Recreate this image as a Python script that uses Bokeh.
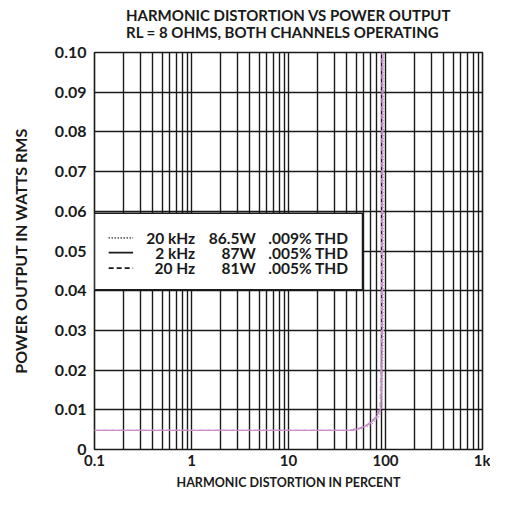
from bokeh.plotting import figure
from bokeh.models import Range1d, FixedTicker, Title
from bokeh.core.properties import value
from bokeh.embed import file_html
from bokeh.resources import INLINE

# ---- data ----
title_lines = ["HARMONIC DISTORTION VS POWER OUTPUT", "RL = 8 OHMS, BOTH CHANNELS OPERATING"]
x_tick_values = [0.1, 1, 10, 100, 1000]
x_tick_labels = ["0.1", "1", "10", "100", "1k"]
x_grid_mantissas = [1, 2, 3, 4, 5, 6, 7, 8, 9]
x_grid_decades = [0.1, 1, 10, 100]
y_tick_values = [0, 0.01, 0.02, 0.03, 0.04, 0.05, 0.06, 0.07, 0.08, 0.09, 0.10]
y_tick_labels = ["0", "0.01", "0.02", "0.03", "0.04", "0.05", "0.06", "0.07", "0.08", "0.09", "0.10"]

thd_20k = [0.1, 48, 60, 72, 84, 92, 95, 96]
pw_20k = [0.0048, 0.0048, 0.0054, 0.0064, 0.008, 0.0105, 0.03, 0.10]
thd_2k = [0.1, 45, 56, 68, 80, 90, 93, 94]
pw_2k = [0.0048, 0.0048, 0.0054, 0.0064, 0.008, 0.0105, 0.03, 0.10]
thd_20hz = [0.1, 42, 54, 66, 78, 88, 91, 92]
pw_20hz = [0.0048, 0.0048, 0.0054, 0.0064, 0.008, 0.0105, 0.03, 0.10]

legend_freq = ["20 kHz", "2 kHz", "20 Hz"]
legend_power = ["86.5W", "87W", "81W"]
legend_thd = [".009% THD", ".005% THD", ".005% THD"]
legend_dash = ["1 2", "solid", "5 3"]

FONT = "Lato"
INK = "#1a1a1a"
CURVE = "#c98fc9"

p = figure(width=490, height=492, x_axis_type="log",
           x_range=Range1d(0.1, 1000), y_range=Range1d(0, 0.10),
           output_backend="svg", toolbar_location=None,
           min_border_left=94, min_border_right=8, min_border_bottom=30, min_border_top=52)
p.background_fill_color = "white"
p.border_fill_color = "white"
p.outline_line_color = INK
p.outline_line_width = 1.6

p.title.text = "\n".join(title_lines)
p.title.align = "center"
p.title.text_font = FONT
p.title.text_font_size = "15px"
p.title.text_font_style = "bold"
p.title.text_color = INK
p.title.text_line_height = 0.95
p.title.standoff = 0
# small empty spacer between title block and plot frame
p.add_layout(Title(text=" ", text_font_size="8px", standoff=0), "above")

# grid
grid_vals = [round(d * m, 6) for d in x_grid_decades for m in x_grid_mantissas] + [1000]
p.xgrid.ticker = FixedTicker(ticks=grid_vals)
p.xgrid.grid_line_color = INK
p.xgrid.grid_line_width = 1.4
p.ygrid.ticker = FixedTicker(ticks=y_tick_values)
p.ygrid.grid_line_color = INK
p.ygrid.grid_line_width = 1.4

# axes
p.xaxis.ticker = FixedTicker(ticks=x_tick_values)
p.xaxis.major_label_overrides = {v: l for v, l in zip(x_tick_values, x_tick_labels)}
p.yaxis.ticker = FixedTicker(ticks=y_tick_values)
p.yaxis.major_label_overrides = {v: l for v, l in zip(y_tick_values, y_tick_labels)}
for ax in (p.xaxis, p.yaxis):
    ax.axis_line_color = None
    ax.major_tick_line_color = None
    ax.minor_tick_line_color = None
    ax.major_tick_out = 0
    ax.major_tick_in = 0
    ax.minor_tick_out = 0
    ax.minor_tick_in = 0
    ax.major_label_text_font = FONT
    ax.major_label_text_font_style = "bold"
    ax.major_label_text_color = INK
    ax.axis_label_text_font = FONT
    ax.axis_label_text_font_style = "bold"
    ax.axis_label_text_color = INK
p.xaxis.major_label_text_font_size = "15px"
p.yaxis.major_label_text_font_size = "16px"
p.xaxis.axis_label_text_font_size = "12.5px"
p.yaxis.axis_label_text_font_size = "16px"
p.xaxis.major_label_standoff = 1
p.yaxis.major_label_standoff = 8
p.xaxis.axis_label = "HARMONIC DISTORTION IN PERCENT"
p.xaxis.axis_label_standoff = 3
p.yaxis.axis_label = "POWER OUTPUT IN WATTS RMS"
p.yaxis.axis_label_standoff = 22

# curves
p.line(thd_20k, pw_20k, line_color=CURVE, line_width=1.3, line_dash="1 2")
p.line(thd_2k, pw_2k, line_color=CURVE, line_width=1.3)
p.line(thd_20hz, pw_20hz, line_color=CURVE, line_width=1.3, line_dash="5 3")

# legend box
p.quad(left=[0.1], right=[58], bottom=[0.0402], top=[0.0595],
       fill_color="white", line_color=INK, line_width=1.6)
row_y = [0.0533, 0.0496, 0.0457]
for yy, dash in zip(row_y, legend_dash):
    p.line([0.14, 0.25], [yy, yy], line_color=INK, line_width=1.8, line_dash=dash)
p.text(x=[1.09] * 3, y=row_y, text=legend_freq, text_align="right", text_baseline="middle",
       text_font=value(FONT), text_font_style="bold", text_font_size="15.5px", text_color=INK)
p.text(x=[4.6] * 3, y=row_y, text=legend_power, text_align="right", text_baseline="middle",
       text_font=value(FONT), text_font_style="bold", text_font_size="15.5px", text_color=INK)
p.text(x=[6.2] * 3, y=row_y, text=legend_thd, text_align="left", text_baseline="middle",
       text_font=value(FONT), text_font_style="bold", text_font_size="15.5px", text_color=INK)

open("out.html", "w").write(file_html(p, INLINE))
